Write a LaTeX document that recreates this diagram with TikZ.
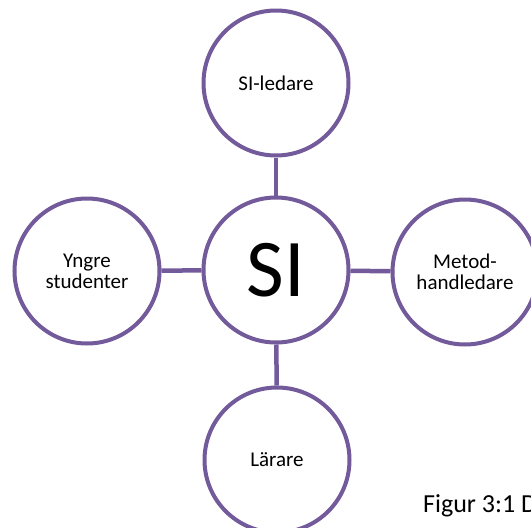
\documentclass[tikz,border=0pt]{standalone}
\usepackage{fontspec}
\setmainfont{Carlito}
\definecolor{ring}{HTML}{735A9B}
\begin{document}
\begin{tikzpicture}[x=1pt,y=-1pt,
  ringnode/.style={circle,draw=ring,line width=4pt,fill=white,minimum size=145pt,inner sep=0pt,align=center,
    font=\fontsize{21}{21}\selectfont},
  link/.style={draw=ring,line width=4.5pt}]
\useasboundingbox (0,0) rectangle (531,528);
\clip (0,0) rectangle (531,528);
\node[ringnode] (top) at (276,83) {SI-ledare};
\node[ringnode,font=\fontsize{82}{82}\selectfont] (si) at (276,270) {SI};
\node[ringnode] (left) at (87,271) {Yngre\\studenter};
\node[ringnode] (right) at (465,272) {Metod-\\handledare};
\node[ringnode] (bottom) at (277,460) {Lärare};
\draw[link] (top) -- (si);
\draw[link] (left) -- (si);
\draw[link] (si) -- (right);
\draw[link] (si) -- (bottom);
\node[anchor=base west,inner sep=0pt,font=\fontsize{26}{30}\selectfont] (cap) at (423,512) {Figur 3:1 D};
\end{tikzpicture}
\end{document}
